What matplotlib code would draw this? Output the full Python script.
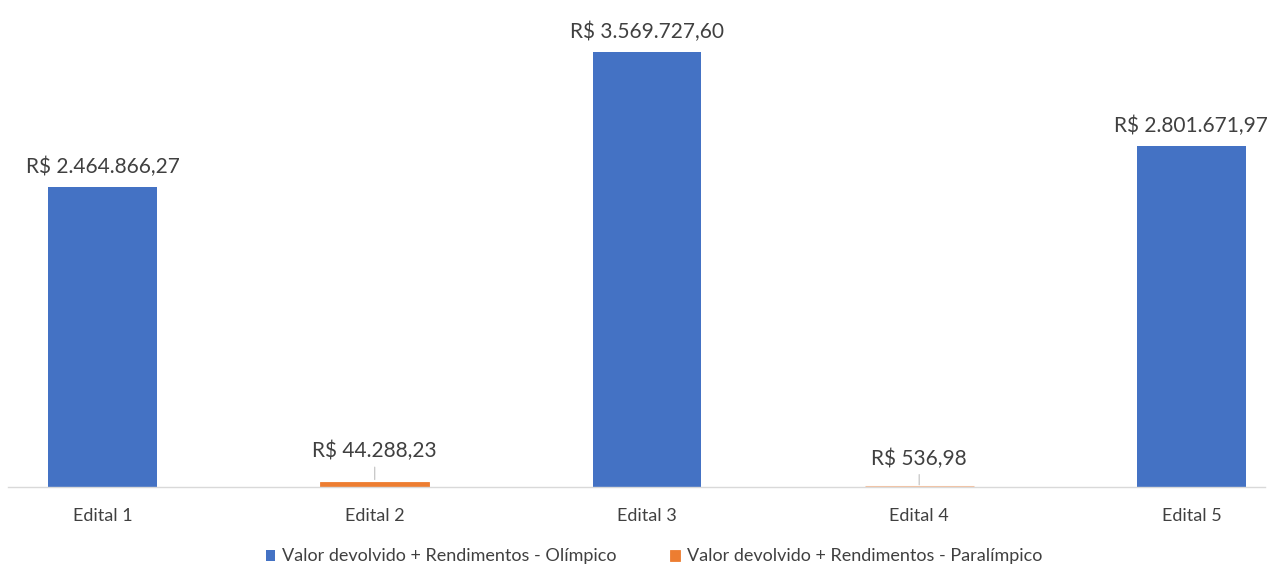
import numpy as np
import matplotlib.pyplot as plt

editais     = ["Edital 1", "Edital 2", "Edital 3", "Edital 4", "Edital 5"]
olimpico    = [2464866.27, 0, 3569727.60, 0, 2801671.97]
paralimpico = [0, 44288.23, 0, 536.98, 0]
rotulos     = ["R$ 2.464.866,27", "R$ 44.288,23", "R$ 3.569.727,60", "R$ 536,98", "R$ 2.801.671,97"]

azul    = "#4472C4"
laranja = "#ED7D31"
texto   = "#404040"

plt.rcParams['font.family'] = ['Lato', 'DejaVu Sans']

fig = plt.figure(figsize=(12.72, 5.66), dpi=100)
ax  = fig.add_axes([0.0, 79/566, 1.0, 487/566])

x = np.arange(len(editais))
w = 0.40

b1 = ax.bar(x, olimpico, w, color=azul, label="Valor devolvido + Rendimentos - Olímpico")
b2 = ax.bar(x, paralimpico, w, color=laranja, edgecolor=laranja, linewidth=0.6,
            label="Valor devolvido + Rendimentos - Paralímpico")
# a barra do edital 4 aparece mais clara no original
b2[3].set_facecolor("#F6C09C")
b2[3].set_edgecolor("#F6C09C")
b2[3].set_linewidth(2.2)

# rotulos das barras pequenas ficam mais acima, com linha de chamada
desloc = [10, 17.3, 10, 15.8, 10]
for i in range(len(editais)):
    v = olimpico[i] + paralimpico[i]
    if olimpico[i] > 0:
        ax.annotate(rotulos[i], (x[i], v), xytext=(0, desloc[i]), textcoords="offset points",
                    ha="center", va="baseline", fontsize=15, color=texto)
    else:
        ax.annotate(rotulos[i], (x[i], v), xytext=(0, desloc[i]), textcoords="offset points",
                    ha="center", va="baseline", fontsize=15, color=texto,
                    arrowprops=dict(arrowstyle="-", color="#BFBFBF", lw=0.8,
                                    shrinkA=2, shrinkB=1.5))

ax.set_xlim(-0.3765, 4.296)
ax.set_ylim(0, 3997000)
ax.set_xticks(x)
ax.set_xticklabels(editais, fontsize=13, color=texto)
ax.tick_params(axis="x", length=0, pad=15)
ax.set_yticks([])
for s in ["top", "right", "left"]:
    ax.spines[s].set_visible(False)
ax.spines["bottom"].set_color("#D9D9D9")
ax.spines["bottom"].set_linewidth(1)
ax.spines["bottom"].set_bounds(-0.347, 4.27)

fig.legend(handles=[b1, b2], loc="lower center", bbox_to_anchor=(0.514, -0.026), ncol=2,
           frameon=False, fontsize=13, handlelength=0.55, handleheight=0.55,
           handletextpad=0.35, columnspacing=3, labelcolor=texto)

fig.savefig("out.png", dpi=100)
